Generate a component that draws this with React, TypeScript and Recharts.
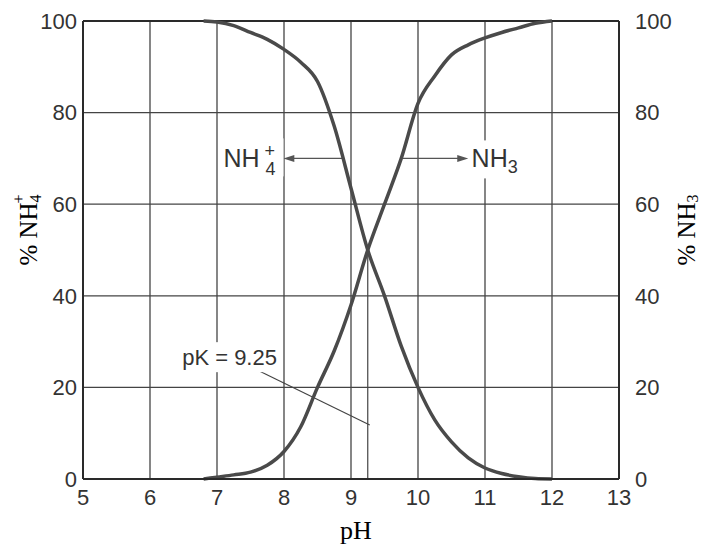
import React from "react";
import {
  LineChart,
  Line,
  XAxis,
  YAxis,
  CartesianGrid,
  ReferenceLine,
  ReferenceDot,
} from "recharts";

// pH sample positions
const phValues = [6.8, 7, 7.25, 7.5, 7.75, 8, 8.25, 8.5, 8.75, 9, 9.25, 9.5, 9.75, 10, 10.25, 10.5, 10.75, 11, 11.25, 11.5, 11.75, 12];
// % NH4+ (decreasing curve)
const nh4Values = [100, 99.8, 99, 97.5, 96, 93.8, 91, 86.8, 77, 63.5, 50, 40, 29, 20, 12.9, 8.1, 4.6, 2.4, 1.2, 0.5, 0.1, 0];
// % NH3 (increasing curve)
const nh3Values = [0, 0.4, 0.9, 1.5, 3, 6, 11.4, 20, 28, 38, 50, 60, 70, 82, 88, 92.6, 94.8, 96.3, 97.5, 98.5, 99.5, 100];

const xTicks = [5, 6, 7, 8, 9, 10, 11, 12, 13];
const yTicks = [0, 20, 40, 60, 80, 100];
const pK = 9.25;

const data = phValues.map((ph, i) => ({ ph, nh4: nh4Values[i], nh3: nh3Values[i] }));

const INK = "#333";
const SANS = "'Liberation Sans', Arial, Helvetica, sans-serif";
const SERIF = "'Liberation Serif', 'Times New Roman', serif";

const ArrowShape = (props: any) => {
  const { x1, y1, x2, y2 } = props;
  const dir = x2 > x1 ? 1 : -1;
  const head = 11;
  return (
    <g>
      <line x1={x1} y1={y1} x2={x2 - dir * head * 0.6} y2={y2} stroke="#555" strokeWidth={1.4} />
      <polygon
        points={`${x2},${y2} ${x2 - dir * head},${y2 - 3.5} ${x2 - dir * head},${y2 + 3.5}`}
        fill="#555"
      />
    </g>
  );
};

const ThinLine = (props: any) => {
  const { x1, y1, x2, y2 } = props;
  return <line x1={x1} y1={y1} x2={x2} y2={y2} stroke="#444" strokeWidth={1.2} />;
};

const NH4Label = (props: any) => {
  const { cx, cy } = props;
  return (
    <g>
      <rect x={cx - 31} y={cy - 20} width={64} height={38} fill="#fff" />
      <text x={cx - 27} y={cy + 9} fontFamily={SANS} fontSize={25} fill={INK}>
        NH
      </text>
      <text x={cx + 14} y={cy - 1} fontFamily={SANS} fontSize={18} fill={INK}>
        +
      </text>
      <text x={cx + 15} y={cy + 17} fontFamily={SANS} fontSize={18} fill={INK}>
        4
      </text>
    </g>
  );
};

const NH3Label = (props: any) => {
  const { cx, cy } = props;
  return (
    <g>
      <rect x={cx - 3} y={cy - 18} width={54} height={38} fill="#fff" />
      <text x={cx} y={cy + 9} fontFamily={SANS} fontSize={25} fill={INK}>
        NH
        <tspan fontSize={18} dy={6}>
          3
        </tspan>
      </text>
    </g>
  );
};

const PKLabel = (props: any) => {
  const { cx, cy } = props;
  return (
    <g>
      <rect x={cx - 2} y={cy - 15} width={100} height={30} fill="#fff" />
      <text x={cx} y={cy + 8} fontFamily={SANS} fontSize={22} fill={INK}>
        pK = 9.25
      </text>
    </g>
  );
};

const LeftTitle = (props: any) => {
  const { viewBox } = props;
  const cx = viewBox.x + 5;
  const cy = viewBox.y + viewBox.height / 2 - 20;
  return (
    <text
      x={cx}
      y={cy}
      transform={`rotate(-90, ${cx}, ${cy})`}
      textAnchor="middle"
      fontFamily={SERIF}
      fontSize={25}
      fill="#000"
      dominantBaseline="central"
    >
      % NH
      <tspan fontSize={16} dy={7}>4</tspan>
      <tspan fontSize={16} dx={-9} dy={-17}>+</tspan>
    </text>
  );
};

const RightTitle = (props: any) => {
  const { viewBox } = props;
  const cx = viewBox.x + 67;
  const cy = viewBox.y + viewBox.height / 2 - 20;
  return (
    <text
      x={cx}
      y={cy}
      transform={`rotate(-90, ${cx}, ${cy})`}
      textAnchor="middle"
      fontFamily={SERIF}
      fontSize={25}
      fill="#000"
      dominantBaseline="central"
    >
      % NH
      <tspan fontSize={16} dy={6}>3</tspan>
    </text>
  );
};

const BottomTitle = (props: any) => {
  const { viewBox } = props;
  const cx = viewBox.x + viewBox.width / 2 + 5;
  const cy = viewBox.y + 60;
  return (
    <text x={cx} y={cy} textAnchor="middle" fontFamily={SERIF} fontSize={26} fill="#000">
      pH
    </text>
  );
};

export default function App() {
  return (
    <div style={{ position: "absolute", left: 0, top: 0, width: 702, height: 547, background: "#fff" }}>
      <LineChart width={702} height={547} data={data} margin={{ top: 21, right: 23, bottom: 38, left: 23 }}>
        <CartesianGrid yAxisId="left" stroke="#444" strokeWidth={1.3} />
        <XAxis
          dataKey="ph"
          type="number"
          domain={[5, 13]}
          ticks={xTicks}
          interval={0}
          tickLine={false}
          tickSize={6}
          tickMargin={4}
          height={30}
          axisLine={{ stroke: "#2a2a2a", strokeWidth: 2 }}
          tick={{ fontFamily: SANS, fontSize: 22, fill: INK }}
          label={{ content: BottomTitle } as any}
        />
        <YAxis
          yAxisId="left"
          orientation="left"
          type="number"
          domain={[0, 100]}
          ticks={yTicks}
          interval={0}
          width={60}
          tickLine={false}
          tickSize={6}
          tickMargin={0}
          axisLine={{ stroke: "#2a2a2a", strokeWidth: 2 }}
          tick={{ fontFamily: SANS, fontSize: 22, fill: INK }}
          label={{ content: LeftTitle } as any}
        />
        <YAxis
          yAxisId="right"
          orientation="right"
          type="number"
          domain={[0, 100]}
          ticks={yTicks}
          interval={0}
          width={60}
          tickLine={false}
          tickSize={6}
          tickMargin={10}
          axisLine={{ stroke: "#2a2a2a", strokeWidth: 2 }}
          tick={{ fontFamily: SANS, fontSize: 22, fill: INK, textAnchor: "start" }}
          label={{ content: RightTitle } as any}
        />
        <ReferenceLine yAxisId="left" y={100} stroke="#2a2a2a" strokeWidth={2} />
        <ReferenceLine
          yAxisId="left"
          segment={[{ x: pK, y: 0 }, { x: pK, y: 50 }]}
          shape={ThinLine}
        />
        <ReferenceLine
          yAxisId="left"
          segment={[{ x: 7.6, y: 23.8 }, { x: 9.28, y: 11.8 }]}
          shape={ThinLine}
        />
        <ReferenceLine
          yAxisId="left"
          segment={[{ x: 8.87, y: 70 }, { x: 7.99, y: 70 }]}
          shape={ArrowShape}
        />
        <ReferenceLine
          yAxisId="left"
          segment={[{ x: 9.76, y: 70 }, { x: 10.75, y: 70 }]}
          shape={ArrowShape}
        />
        <ReferenceDot yAxisId="left" x={7.5} y={70} r={0} shape={NH4Label} />
        <ReferenceDot yAxisId="left" x={10.8} y={70} r={0} shape={NH3Label} />
        <ReferenceDot yAxisId="left" x={6.48} y={26.6} r={0} shape={PKLabel} />
        <Line
          yAxisId="left"
          type="monotone"
          dataKey="nh4"
          stroke="#4a4a4a"
          strokeWidth={3.5}
          dot={false}
          isAnimationActive={false}
        />
        <Line
          yAxisId="right"
          type="monotone"
          dataKey="nh3"
          stroke="#4a4a4a"
          strokeWidth={3.5}
          dot={false}
          isAnimationActive={false}
        />
      </LineChart>
    </div>
  );
}
